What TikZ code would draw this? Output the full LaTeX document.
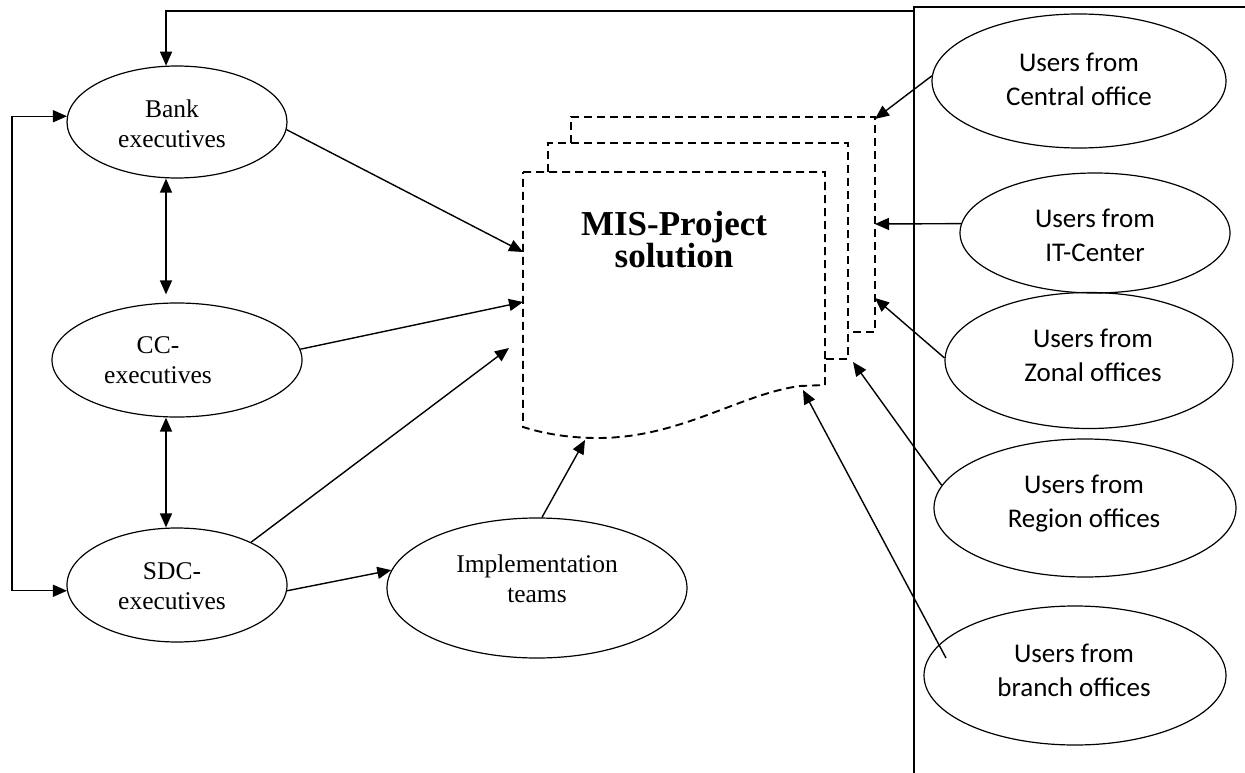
\documentclass[tikz,border=0pt]{standalone}
\usepackage{fontspec}
\setmainfont{Liberation Serif}
\newfontfamily\calfont{Carlito}
\usetikzlibrary{arrows.meta,shapes.geometric}
\begin{document}
\begin{tikzpicture}[x=1pt,y=-1pt,
  ell/.style={draw, ellipse, line width=1.2pt, inner sep=0pt},
  lt/.style={align=center, inner sep=0pt, font=\fontsize{25.5}{30}\selectfont},
  rt/.style={align=center, inner sep=0pt, font=\calfont\fontsize{27}{34}\selectfont},
  arr/.style={line width=1.4pt, -{Triangle[length=14pt,width=12pt]}},
  darr/.style={line width=1.4pt, {Triangle[length=14pt,width=12pt]}-{Triangle[length=14pt,width=12pt]}},
  docline/.style={line width=1.9pt, dash pattern=on 8pt off 5pt}
]
\useasboundingbox (0,0) rectangle (1245,773);

% frame on the right
\draw[line width=1.1pt] (914,773) -- (914,7) -- (1245,7);

% left ellipses
\node[ell, minimum width=220, minimum height=112] (bank) at (177,122) {};
\node[lt] (bankt) at (172,123.5) {Bank\\executives};
\node[ell, minimum width=250, minimum height=114] (cc) at (177,360) {};
\node[lt] (cct) at (158,360.5) {CC-\\executives};
\node[ell, minimum width=220, minimum height=114] (sdc) at (177,585) {};
\node[lt] (sdct) at (172,586) {SDC-\\executives};
\node[ell, minimum width=300, minimum height=140] (impl) at (537,588) {};
\node[lt, font=\fontsize{25.5}{29.5}\selectfont] (implt) at (537,579) {Implementation\\teams};

% right ellipses
\node[ell, minimum width=294, minimum height=134] (cen) at (1079,81) {};
\node[rt] (cent) at (1079,79) {Users from\\Central office};
\node[ell, minimum width=270, minimum height=120] (it) at (1095,233) {};
\node[rt] (itt) at (1095,235.5) {Users from\\IT-Center};
\node[ell, minimum width=288, minimum height=136] (zon) at (1089,360.5) {};
\node[rt] (zont) at (1093,355.5) {Users from\\Zonal offices};
\node[ell, minimum width=302, minimum height=138] (reg) at (1085,508) {};
\node[rt] (regt) at (1084,504) {Users from\\Region offices};
\node[ell, minimum width=302, minimum height=139] (br) at (1075,675.5) {};
\node[rt] (brt) at (1074,670) {Users from\\branch offices};

% document (stacked pages)
\draw[docline] (523,172) -- (825,172) -- (825,385) -- (800,386)
  .. controls (740,394) and (680,438) .. (598,438)
  .. controls (570,438) and (545,434) .. (523,427) -- cycle;
\draw[docline] (548,172) -- (548,143) -- (848,143) -- (848,359) -- (825,359);
\draw[docline] (571,143) -- (571,117) -- (875,117) -- (875,332) -- (848,332);
\node[font=\bfseries\fontsize{35}{29}\selectfont, align=center, inner sep=0pt] (mis) at (674,239.5) {MIS-Project\\solution};

% arrow tip points on the document
\coordinate (d1) at (523,252);
\coordinate (d2) at (523,302);
\coordinate (d3) at (509,348);
\coordinate (d4) at (585,440);
\coordinate (d5) at (875,119);
\coordinate (d6) at (875,224);
\coordinate (d7) at (875,298);
\coordinate (d8) at (853,362);
\coordinate (d9) at (803,390);
\coordinate (brs) at (946,658);
\coordinate (topr) at (914,11);
\coordinate (loopx) at (12,0);
\coordinate (vx) at (166,0);

% connectors
\draw[arr] (topr) -| (bank.101);
\draw[darr] (bank.177) -- (bank.177 -| loopx) -- (sdc.183 -| loopx) -- (sdc.183);
\draw[darr, shorten >=8pt] (bank.south -| vx) -- (cc.north -| vx);
\draw[darr] (cc.south -| vx) -- (sdc.north -| vx);
\draw[arr] (bank.-4) -- (d1);
\draw[arr] (cc.5) -- (d2);
\draw[arr] (sdc.30) -- (d3);
\draw[arr] (sdc.-3) -- (impl.173);
\draw[arr] (impl.86) -- (d4);
\draw[arr] (cen.178) -- (d5);
\draw[arr] (it.176) -- (d6);
\draw[arr] (zon.179) -- (d7);
\draw[arr] (reg.171) -- (d8);
\draw[arr] (brs) -- (d9);
\end{tikzpicture}
\end{document}
